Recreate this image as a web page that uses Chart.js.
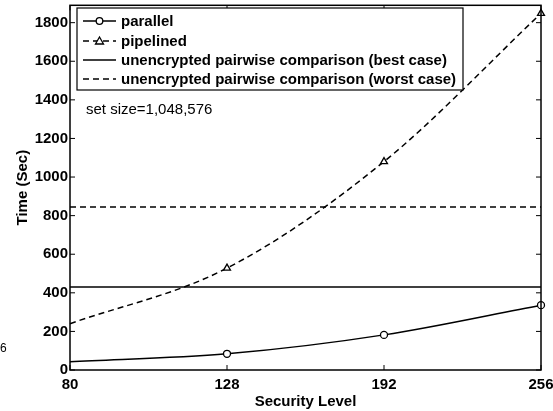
<!DOCTYPE html>
<html>
<head>
<meta charset="utf-8">
<script src="https://cdn.jsdelivr.net/npm/chart.js@4"></script>
<style>
  html, body { margin: 0; padding: 0; background: #fff; }
  #wrap { width: 553px; height: 411px; position: relative; }
</style>
</head>
<body>
<div id="wrap"><canvas id="myChart"></canvas></div>
<script>
// Datos
const levels = ['80', '128', '192', '256']
const parallel = [43, 84, 182, 336]
const pipelined = [240, 528, 1080, 1848]
const bestCase = [430, 430, 430, 430]
const worstCase = [845, 845, 845, 845]
const yTicks = [0, 200, 400, 600, 800, 1000, 1200, 1400, 1600, 1800]

const FONT = 'Liberation Sans, Helvetica, Arial, sans-serif'

// Leyenda y ticks estilo MATLAB
const matlabBox = {
    id: 'matlabBox',
    afterDraw(chart) {
        const { ctx, chartArea: a, scales } = chart
        ctx.save()
        ctx.strokeStyle = '#000'
        ctx.lineWidth = 1.5
        ctx.strokeRect(a.left, a.top, a.right - a.left, a.bottom - a.top)

        // ticks hacia adentro
        ctx.lineWidth = 1
        ctx.beginPath()
        levels.forEach((l, i) => {
            const x = scales.x.getPixelForValue(i)
            ctx.moveTo(x, a.bottom); ctx.lineTo(x, a.bottom - 5)
            ctx.moveTo(x, a.top); ctx.lineTo(x, a.top + 5)
        })
        yTicks.forEach(v => {
            const y = scales.y.getPixelForValue(v)
            ctx.moveTo(a.left, y); ctx.lineTo(a.left + 5, y)
            ctx.moveTo(a.right, y); ctx.lineTo(a.right - 5, y)
        })
        ctx.stroke()

        // caja de leyenda
        const lx = 77, ly = 8, lw = 386, lh = 82
        ctx.fillStyle = '#fff'
        ctx.fillRect(lx, ly, lw, lh)
        ctx.lineWidth = 1.2
        ctx.strokeRect(lx, ly, lw, lh)

        const rows = [21, 41, 60, 79]
        ctx.font = 'bold 15px ' + FONT
        ctx.textBaseline = 'middle'
        chart.data.datasets.forEach((ds, i) => {
            const y = rows[i]
            ctx.strokeStyle = '#000'
            ctx.lineWidth = 1.3
            ctx.setLineDash(ds.borderDash || [])
            ctx.beginPath()
            ctx.moveTo(83, y); ctx.lineTo(116, y)
            ctx.stroke()
            ctx.setLineDash([])
            if (ds.pointStyle === 'circle') {
                ctx.fillStyle = '#fff'
                ctx.beginPath()
                ctx.arc(99.5, y, 3.3, 0, Math.PI * 2)
                ctx.fill(); ctx.stroke()
            } else if (ds.pointStyle === 'triangle') {
                ctx.fillStyle = '#fff'
                ctx.beginPath()
                ctx.moveTo(99.5, y - 4); ctx.lineTo(103.5, y + 3); ctx.lineTo(95.5, y + 3)
                ctx.closePath()
                ctx.fill(); ctx.stroke()
            }
            ctx.fillStyle = '#000'
            ctx.fillText(ds.label, 121, y + 1)
        })

        ctx.font = '15px ' + FONT
        ctx.fillText('set size=1,048,576', 86, 110)
        ctx.font = '12px ' + FONT
        ctx.fillText('6', 0, 349)
        ctx.restore()
    }
}

const ctx = document.getElementById('myChart')

// eslint-disable-next-line no-new, no-undef
new Chart(ctx, {
    type: 'line',
    data: {
        labels: levels,
        datasets: [
            {
                label: 'parallel',
                data: parallel,
                borderColor: '#000',
                backgroundColor: '#fff',
                borderWidth: 1.5,
                pointStyle: 'circle',
                pointRadius: [0, 3.5, 3.5, 3.5],
                pointBorderWidth: 1.3,
                cubicInterpolationMode: 'monotone',
            },
            {
                label: 'pipelined',
                data: pipelined,
                borderColor: '#000',
                backgroundColor: '#fff',
                borderWidth: 1.5,
                borderDash: [6, 4],
                pointStyle: 'triangle',
                pointRadius: [0, 4, 4, 4],
                pointBorderWidth: 1.3,
                cubicInterpolationMode: 'monotone',
            },
            {
                label: 'unencrypted pairwise comparison (best case)',
                data: bestCase,
                borderColor: '#000',
                borderWidth: 1.5,
                pointRadius: 0,
            },
            {
                label: 'unencrypted pairwise comparison (worst case)',
                data: worstCase,
                borderColor: '#000',
                borderWidth: 1.5,
                borderDash: [6, 4],
                pointRadius: 0,
            },
        ],
    },
    options: {
        responsive: true,
        maintainAspectRatio: false,
        animation: false,
        layout: { padding: { left: 4, right: 12, top: 3, bottom: 0 } },
        plugins: {
            legend: { display: false },
            tooltip: { enabled: false },
        },
        scales: {
            x: {
                offset: false,
                grid: { display: false, drawTicks: false },
                border: { display: false },
                ticks: {
                    color: '#000',
                    font: { family: FONT, size: 15, weight: 'bold' },
                    padding: 6,
                    maxRotation: 0,
                    autoSkip: false,
                },
                title: {
                    display: true,
                    text: 'Security Level',
                    color: '#000',
                    font: { family: FONT, size: 15, weight: 'bold' },
                    padding: { top: 0, bottom: 0 },
                },
                afterFit(scale) {
                    scale.height = 41
                    scale.paddingLeft = 0
                    scale.paddingRight = 0
                },
            },
            y: {
                min: 0,
                max: 1890,
                grid: { display: false, drawTicks: false },
                border: { display: false },
                afterBuildTicks(scale) {
                    scale.ticks = yTicks.map(v => ({ value: v }))
                },
                ticks: {
                    color: '#000',
                    font: { family: FONT, size: 15, weight: 'bold' },
                    padding: 2,
                    callback: v => String(v),
                },
                title: {
                    display: true,
                    text: 'Time (Sec)',
                    color: '#000',
                    font: { family: FONT, size: 15, weight: 'bold' },
                    padding: { top: 10, bottom: 0 },
                },
                afterFit(scale) {
                    scale.width = 66
                    scale.paddingTop = 0
                    scale.paddingBottom = 0
                },
            },
        },
    },
    plugins: [matlabBox],
})
</script>
</body>
</html>
